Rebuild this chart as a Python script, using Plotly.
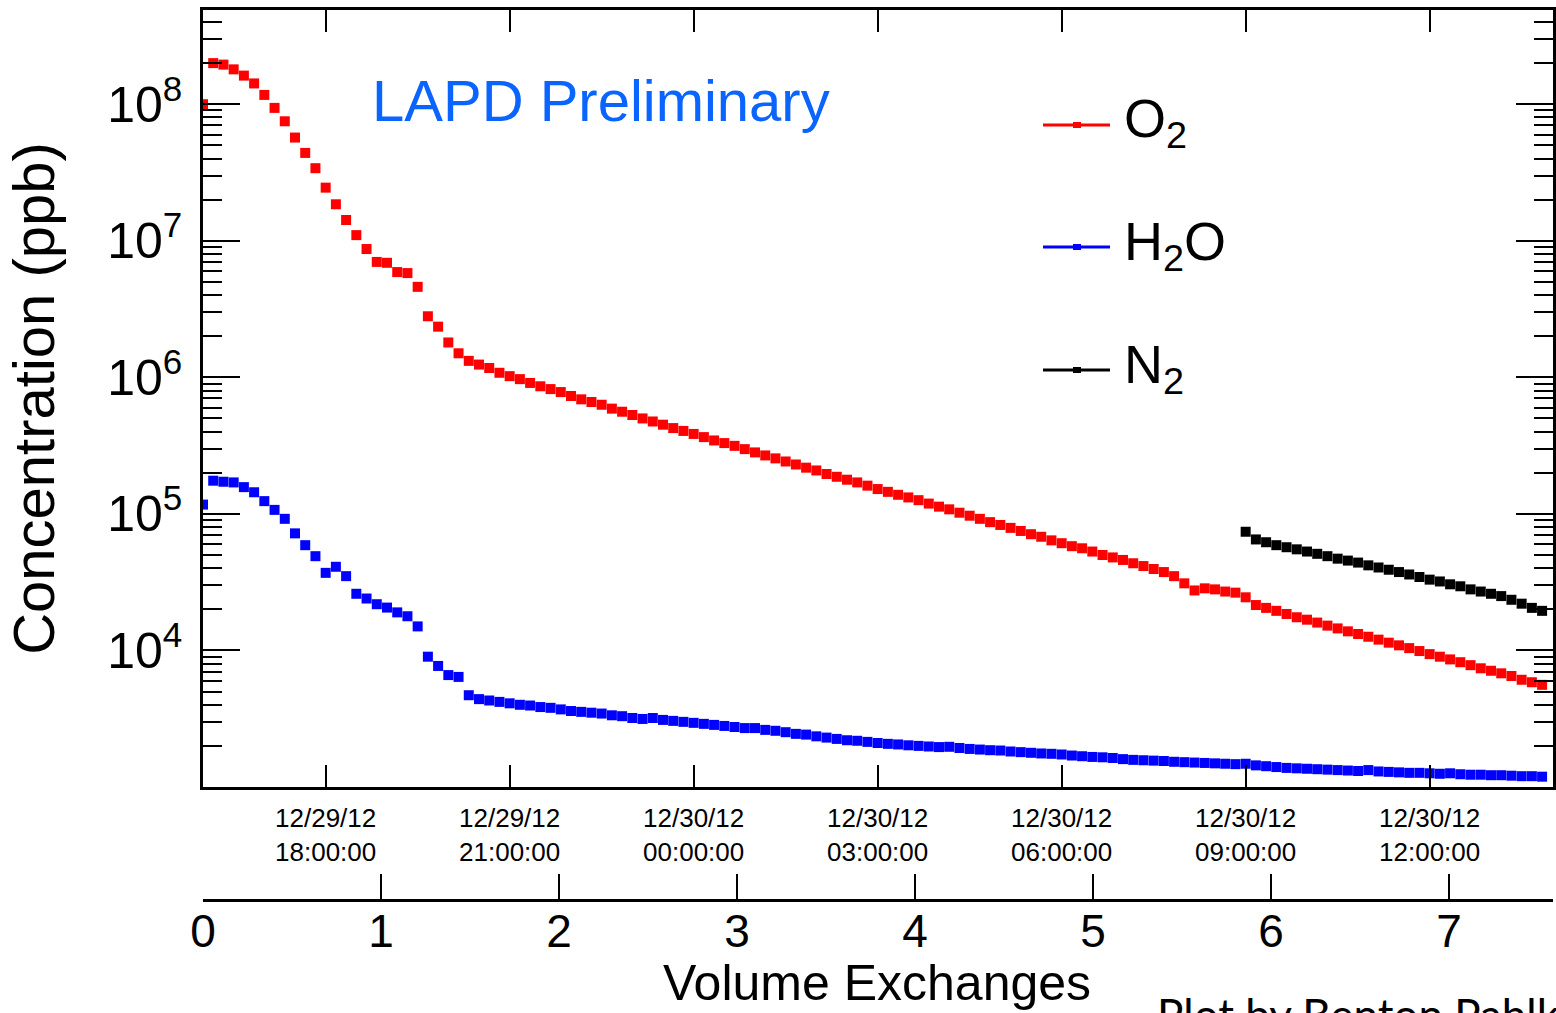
import pandas as pd
import plotly.graph_objects as go

# ---------------- data ----------------
start_time = "2012-12-29 16:00:00"

sample_minutes = [
    0, 10, 20, 30, 40, 50, 60, 70, 80, 90, 100, 110, 120, 130, 140, 150, 160, 170, 180, 190,
    200, 210, 220, 230, 240, 250, 260, 270, 280, 290, 300, 310, 320, 330, 340, 350, 360, 370, 380, 390,
    400, 410, 420, 430, 440, 450, 460, 470, 480, 490, 500, 510, 520, 530, 540, 550, 560, 570, 580, 590,
    600, 610, 620, 630, 640, 650, 660, 670, 680, 690, 700, 710, 720, 730, 740, 750, 760, 770, 780, 790,
    800, 810, 820, 830, 840, 850, 860, 870, 880, 890, 900, 910, 920, 930, 940, 950, 960, 970, 980, 990,
    1000, 1010, 1020, 1030, 1040, 1050, 1060, 1070, 1080, 1090, 1100, 1110, 1120, 1130, 1140, 1150,
    1160, 1170, 1180, 1190, 1200, 1210, 1220, 1230, 1240, 1250, 1260, 1270, 1280, 1290, 1300, 1310,
]

o2_ppb = [
    1.0e8, 2.0e8, 1.95e8, 1.8e8, 1.62e8, 1.42e8, 1.17e8, 9.4e7, 7.5e7, 5.7e7,
    4.4e7, 3.4e7, 2.45e7, 1.85e7, 1.42e7, 1.1e7, 8.7e6, 7.0e6, 6.9e6, 5.9e6,
    5.8e6, 4.6e6, 2.8e6, 2.35e6, 1.8e6, 1.5e6, 1.32e6, 1.24e6, 1.17e6, 1.08e6,
    1.02e6, 9.7e5, 9.1e5, 8.6e5, 8.2e5, 7.8e5, 7.3e5, 6.9e5, 6.6e5, 6.3e5,
    5.9e5, 5.6e5, 5.3e5, 5.0e5, 4.75e5, 4.5e5, 4.25e5, 4.05e5, 3.85e5, 3.65e5,
    3.45e5, 3.3e5, 3.15e5, 2.98e5, 2.82e5, 2.68e5, 2.55e5, 2.42e5, 2.3e5, 2.18e5,
    2.08e5, 1.96e5, 1.87e5, 1.78e5, 1.7e5, 1.61e5, 1.52e5, 1.45e5, 1.38e5, 1.32e5,
    1.26e5, 1.19e5, 1.13e5, 1.08e5, 1.02e5, 9.7e4, 9.2e4, 8.7e4, 8.3e4, 7.9e4,
    7.5e4, 7.1e4, 6.8e4, 6.4e4, 6.1e4, 5.8e4, 5.6e4, 5.3e4, 5.0e4, 4.8e4,
    4.6e4, 4.35e4, 4.15e4, 3.95e4, 3.75e4, 3.5e4, 3.1e4, 2.75e4, 2.85e4, 2.8e4,
    2.7e4, 2.65e4, 2.45e4, 2.15e4, 2.05e4, 1.95e4, 1.85e4, 1.75e4, 1.68e4, 1.6e4,
    1.52e4, 1.45e4, 1.38e4, 1.32e4, 1.26e4, 1.2e4, 1.14e4, 1.09e4, 1.04e4, 9.9e3,
    9.4e3, 9.0e3, 8.6e3, 8.2e3, 7.8e3, 7.4e3, 7.1e3, 6.8e3, 6.5e3, 6.1e3,
    5.85e3, 5.6e3,
]

h2o_ppb = [
    1.17e5, 1.75e5, 1.72e5, 1.7e5, 1.57e5, 1.44e5, 1.24e5, 1.07e5, 9.2e4, 7.2e4,
    5.9e4, 4.9e4, 3.7e4, 4.1e4, 3.5e4, 2.6e4, 2.4e4, 2.18e4, 2.06e4, 1.9e4,
    1.78e4, 1.5e4, 9.0e3, 7.7e3, 6.6e3, 6.4e3, 4.7e3, 4.4e3, 4.3e3, 4.2e3,
    4.1e3, 4.0e3, 3.95e3, 3.85e3, 3.8e3, 3.7e3, 3.6e3, 3.55e3, 3.5e3, 3.45e3,
    3.35e3, 3.3e3, 3.2e3, 3.15e3, 3.2e3, 3.1e3, 3.05e3, 3.0e3, 2.95e3, 2.9e3,
    2.85e3, 2.8e3, 2.75e3, 2.7e3, 2.7e3, 2.62e3, 2.58e3, 2.52e3, 2.45e3, 2.42e3,
    2.35e3, 2.3e3, 2.25e3, 2.2e3, 2.18e3, 2.14e3, 2.1e3, 2.07e3, 2.05e3, 2.02e3,
    2.0e3, 1.98e3, 1.96e3, 1.97e3, 1.93e3, 1.9e3, 1.88e3, 1.86e3, 1.85e3, 1.82e3,
    1.8e3, 1.78e3, 1.76e3, 1.75e3, 1.73e3, 1.7e3, 1.68e3, 1.66e3, 1.65e3, 1.63e3,
    1.6e3, 1.58e3, 1.57e3, 1.56e3, 1.55e3, 1.53e3, 1.52e3, 1.51e3, 1.5e3, 1.49e3,
    1.48e3, 1.47e3, 1.48e3, 1.44e3, 1.42e3, 1.4e3, 1.38e3, 1.37e3, 1.36e3, 1.35e3,
    1.34e3, 1.33e3, 1.32e3, 1.31e3, 1.33e3, 1.3e3, 1.29e3, 1.28e3, 1.27e3, 1.27e3,
    1.26e3, 1.25e3, 1.26e3, 1.24e3, 1.23e3, 1.23e3, 1.22e3, 1.22e3, 1.21e3, 1.2e3,
    1.2e3, 1.19e3,
]

n2_minutes = [
    1020, 1030, 1040, 1050, 1060, 1070, 1080, 1090, 1100, 1110, 1120, 1130, 1140, 1150, 1160,
    1170, 1180, 1190, 1200, 1210, 1220, 1230, 1240, 1250, 1260, 1270, 1280, 1290, 1300, 1310,
]
n2_ppb = [
    7.4e4, 6.5e4, 6.2e4, 5.9e4, 5.7e4, 5.5e4, 5.3e4, 5.1e4, 4.9e4, 4.7e4,
    4.55e4, 4.4e4, 4.2e4, 4.05e4, 3.9e4, 3.75e4, 3.6e4, 3.45e4, 3.3e4, 3.2e4,
    3.05e4, 2.95e4, 2.8e4, 2.7e4, 2.6e4, 2.5e4, 2.35e4, 2.2e4, 2.05e4, 1.95e4,
]

time_tick_vals = [
    "2012-12-29 18:00:00", "2012-12-29 21:00:00", "2012-12-30 00:00:00",
    "2012-12-30 03:00:00", "2012-12-30 06:00:00", "2012-12-30 09:00:00",
    "2012-12-30 12:00:00",
]
time_tick_text = [
    "12/29/12<br>18:00:00", "12/29/12<br>21:00:00", "12/30/12<br>00:00:00",
    "12/30/12<br>03:00:00", "12/30/12<br>06:00:00", "12/30/12<br>09:00:00",
    "12/30/12<br>12:00:00",
]
time_range = ["2012-12-29 16:00:00", "2012-12-30 14:00:40"]

volume_ticks = [0, 1, 2, 3, 4, 5, 6, 7]
volume_range = [0, 7.584]

conc_major = [1e4, 1e5, 1e6, 1e7, 1e8]
conc_major_text = ["10<sup>4</sup>", "10<sup>5</sup>", "10<sup>6</sup>", "10<sup>7</sup>", "10<sup>8</sup>"]
conc_minor = [k * 10 ** e for e in range(3, 9) for k in range(2, 10) if k * 10 ** e < 4.9e8]
log_range = [3.0, 8.69]

series_names = ["O<sub>2</sub>", "H<sub>2</sub>O", "N<sub>2</sub>"]
series_colors = ["#ff0000", "#0000ff", "#000000"]

# ---------------- figure ----------------
t0 = pd.Timestamp(start_time)
times = [t0 + pd.Timedelta(minutes=m) for m in sample_minutes]
n2_times = [t0 + pd.Timedelta(minutes=m) for m in n2_minutes]

FONT = "Liberation Sans, Arial, Helvetica, sans-serif"

fig = go.Figure()
marker_style = dict(symbol="square", size=10, line=dict(width=0))
fig.add_trace(go.Scatter(x=times, y=o2_ppb, mode="markers", name="O2",
                         marker=dict(color=series_colors[0], **marker_style), showlegend=False))
fig.add_trace(go.Scatter(x=times, y=h2o_ppb, mode="markers", name="H2O",
                         marker=dict(color=series_colors[1], **marker_style), showlegend=False))
fig.add_trace(go.Scatter(x=n2_times, y=n2_ppb, mode="markers", name="N2",
                         marker=dict(color=series_colors[2], **marker_style), showlegend=False))
# invisible trace so that the volume-exchange axis is drawn
fig.add_trace(go.Scatter(x=[volume_range[0]], y=[None], xaxis="x2", yaxis="y",
                         mode="markers", showlegend=False, hoverinfo="skip"))

W, H = 1556, 1013
L, R, T, B = 203, 3, 10, 113
plot_h = H - T - B  # 890
y_bottom_frac = (900 - 787) / plot_h

fig.update_layout(
    width=W, height=H,
    margin=dict(l=L, r=R, t=T, b=B, pad=0, autoexpand=False),
    paper_bgcolor="white", plot_bgcolor="white",
    font=dict(family=FONT, color="black"),
    showlegend=False,
    xaxis=dict(
        type="date", range=time_range,
        tickmode="array", tickvals=time_tick_vals, ticktext=time_tick_text,
        ticks="inside", ticklen=22, tickwidth=2, tickcolor="black",
        showline=True, linewidth=2.5, linecolor="black", mirror="ticks",
        showgrid=False, zeroline=False, automargin=False,
        tickfont=dict(size=26, family=FONT),
        ticklabelstandoff=6,
        anchor="y",
    ),
    xaxis2=dict(
        range=volume_range, overlaying="x", anchor="free", position=0, side="bottom",
        tickmode="array", tickvals=volume_ticks,
        ticks="inside", ticklen=25, tickwidth=2, tickcolor="black",
        showline=True, linewidth=2.5, linecolor="black",
        showgrid=False, zeroline=False, automargin=False,
        tickfont=dict(size=46, family=FONT),
        ticklabelstandoff=-10,
    ),
    yaxis=dict(
        type="log", range=log_range, domain=[y_bottom_frac, 1],
        tickmode="array", tickvals=conc_major, ticktext=conc_major_text,
        ticks="inside", ticklen=37, tickwidth=2, tickcolor="black",
        minor=dict(tickmode="array", tickvals=conc_minor, ticks="inside",
                   ticklen=19, tickwidth=2, tickcolor="black", showgrid=False),
        showline=True, linewidth=2.5, linecolor="black", mirror="ticks",
        showgrid=False, zeroline=False, automargin=False,
        tickfont=dict(size=50, family=FONT),
        ticklabelstandoff=8,
        title=dict(text="Concentration (ppb)", font=dict(size=58, family=FONT), standoff=34),
    ),
)

def px_x(px):
    return (px - L) / (W - L - R)

def px_y(py):
    return (H - B - py) / plot_h

# x-axis title of the volume-exchange axis
fig.add_annotation(text="Volume Exchanges", xref="paper", yref="paper",
                   x=px_x(877), y=px_y(983), xanchor="center", yanchor="middle",
                   showarrow=False, font=dict(size=50, color="black", family=FONT))

# "LAPD Preliminary" label
fig.add_annotation(text="LAPD Preliminary", xref="paper", yref="paper",
                   x=px_x(370), y=px_y(101), xanchor="left", yanchor="middle",
                   showarrow=False, font=dict(size=58, color="#0a64ff", family=FONT))

# hand-drawn legend (ROOT style)
legend_rows = [125, 247, 370]
legend_text_rows = [122, 245, 368]
for name, color, py, ty in zip(series_names, series_colors, legend_rows, legend_text_rows):
    fig.add_shape(type="line", xref="paper", yref="paper",
                  x0=px_x(1043), x1=px_x(1110), y0=px_y(py), y1=px_y(py),
                  line=dict(color=color, width=3))
    fig.add_shape(type="rect", xref="paper", yref="paper",
                  x0=px_x(1073), x1=px_x(1081), y0=px_y(py + 3), y1=px_y(py - 3),
                  line=dict(width=0), fillcolor=color)
    fig.add_annotation(text=name, xref="paper", yref="paper",
                       x=px_x(1122), y=px_y(ty), xanchor="left", yanchor="middle",
                       showarrow=False, font=dict(size=54, color="black", family=FONT))

# credit text (partially cut off at the bottom and right edges)
fig.add_annotation(text="Plot by Benton Pahlka", xref="paper", yref="paper",
                   x=px_x(1155), y=px_y(986), xanchor="left", yanchor="top",
                   showarrow=False, font=dict(size=44, color="black", family="Lato, Open Sans, sans-serif"))

fig.write_html(
    "out.html",
    config={"displayModeBar": False},
    post_script="document.body.style.margin='0';document.body.style.overflow='hidden';",
)
